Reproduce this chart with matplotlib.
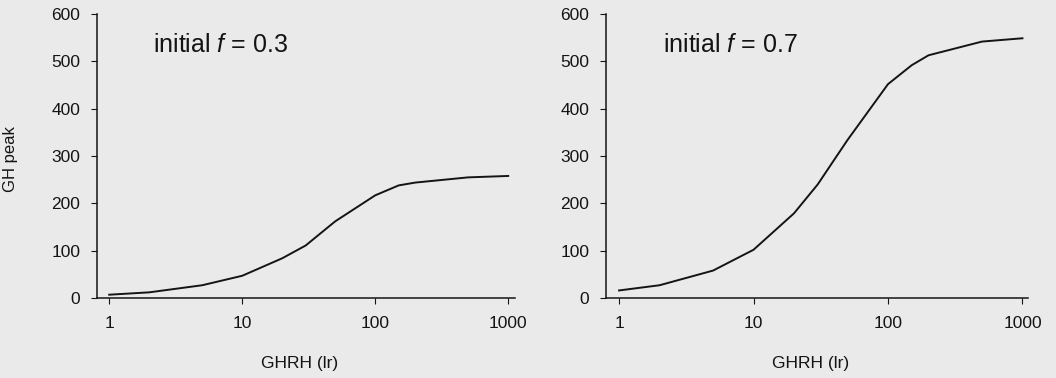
import matplotlib
matplotlib.use("Agg")
import matplotlib.pyplot as plt

plt.rcParams['font.family'] = ['Liberation Sans', 'DejaVu Sans']
plt.rcParams['mathtext.fontset'] = 'custom'
plt.rcParams['mathtext.it'] = 'Liberation Sans:italic'
plt.rcParams['mathtext.rm'] = 'Liberation Sans'

# GHRH dose (lr) and GH peak
ghrh = [1, 2, 5, 10, 20, 30, 50, 100, 150, 200, 500, 1000]
peak_f03 = [7, 12, 27, 47, 84, 111, 162, 217, 238, 244, 255, 258]
ghrh_b = [1, 2, 5, 10, 20, 30, 40, 50, 100, 150, 200, 500, 1000]
peak_f07 = [16, 27, 58, 102, 179, 240, 293, 334, 452, 492, 513, 542, 549]

panels = [
    ("initial $f$ = 0.3", ghrh, peak_f03, [0.0919, 0.2116, 0.3958, 0.751], (0.81, 1125)),
    ("initial $f$ = 0.7", ghrh_b, peak_f07, [0.5739, 0.2116, 0.3996, 0.751], (0.80, 1100)),
]
bg = '#eaeaea'
ink = '#141414'
fig = plt.figure(figsize=(10.56, 3.78), dpi=100, facecolor=bg)

for i, (label, xs, ys, rect, xlim) in enumerate(panels):
    ax = fig.add_axes(rect)
    ax.set_facecolor(bg)
    ax.plot(xs, ys, color=ink, lw=1.4, solid_joinstyle='round')
    ax.set_xscale('log')
    ax.set_xlim(*xlim)
    ax.set_ylim(0, 600)
    ax.set_xticks([1, 10, 100, 1000])
    ax.set_xticklabels(['1', '10', '100', '1000'])
    ax.minorticks_off()
    ax.set_yticks(range(0, 601, 100))
    for s in ['top', 'right']:
        ax.spines[s].set_visible(False)
    for s in ['left', 'bottom']:
        ax.spines[s].set_color(ink)
        ax.spines[s].set_linewidth(1.1)
    ax.tick_params(axis='x', direction='out', length=4, pad=9, labelsize=12.5, colors=ink)
    ax.tick_params(axis='y', direction='out', length=4, pad=8, labelsize=12.5, colors=ink)
    ax.text(0.134, 0.89, label, transform=ax.transAxes, fontsize=18,
            va='center', ha='left', color=ink)
    ax.set_xlabel('GHRH (lr)', fontsize=12.5, color=ink)
    ax.xaxis.set_label_coords(0.485, -0.205)
    if i == 0:
        ax.set_ylabel('GH peak', fontsize=12, color=ink)
        ax.yaxis.set_label_coords(-0.19, 0.49)

fig.savefig('out.png', dpi=100, facecolor=bg)
